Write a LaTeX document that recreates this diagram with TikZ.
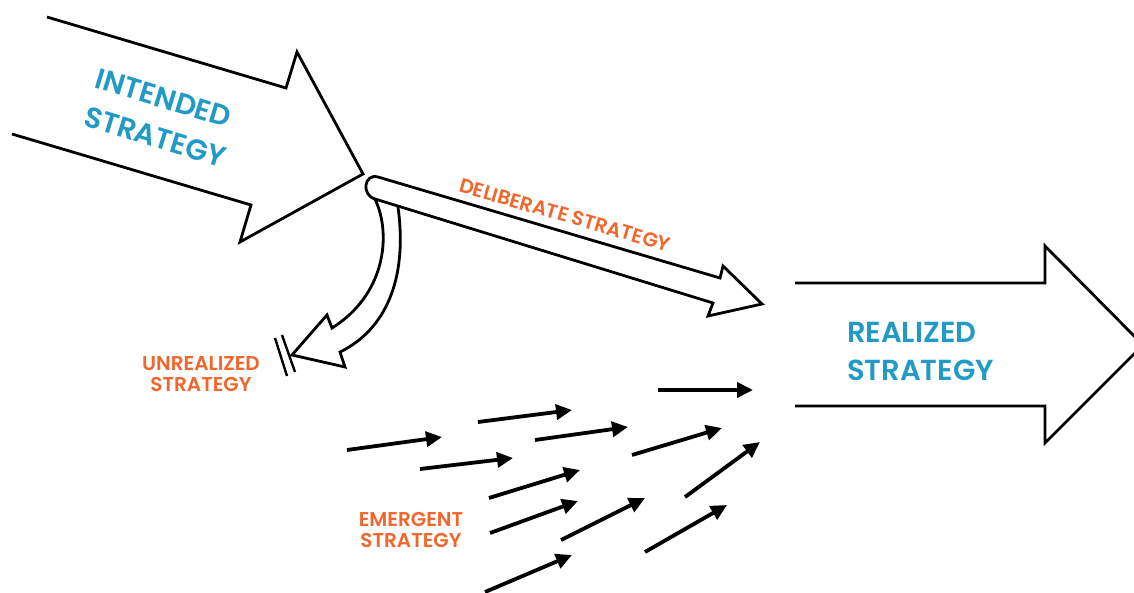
\documentclass[tikz,border=0pt]{standalone}
\usepackage{fontspec}
\setmainfont{Poppins}[BoldFont={* SemiBold}]
\usetikzlibrary{arrows.meta}
\definecolor{stratblue}{RGB}{33,155,197}
\definecolor{stratorange}{RGB}{241,102,45}

\begin{document}
\begin{tikzpicture}[x=1pt,y=1pt]
		\tikzstyle{every node}+=[inner sep=0pt]
		\tikzstyle{shapeline}=[black,line width=2.8pt]
		\tikzstyle{bigtext}=[stratblue,font=\fontsize{29}{38}\selectfont\bfseries,align=left]
		\tikzstyle{smalltext}=[stratorange,font=\fontsize{20}{21}\selectfont\bfseries,align=center]
		\tikzstyle{emergent}=[black,line width=3.8pt,-{Triangle[length=16pt,width=15pt]}]
		\useasboundingbox (0,0) rectangle (1134,-593);
		\clip (0,0) rectangle (1134,-593);
		\draw [shapeline] (47,-17) -- (286,-88) -- (297,-52) -- (363,-174) -- (240,-242) -- (251,-205) -- (12,-134);
		\draw (161,-118) node[bigtext,rotate=-17] (intended) {INTENDED\\[2pt]STRATEGY};
		\draw [shapeline] (795,-283) -- (1045,-283) -- (1045,-246) -- (1143,-345) -- (1045,-443) -- (1045,-406) -- (795,-406);
		\draw (847,-351) node[bigtext,anchor=west] (realized) {REALIZED\\STRATEGY};
		\draw [shapeline] (375,-199) .. controls (361,-195) and (364,-173) .. (378,-177) -- (720,-278) -- (723,-266) -- (762,-304) -- (708,-316) -- (713,-303) -- cycle;
		\draw (565,-215) node[smalltext,rotate=-16] (deliberate) {DELIBERATE STRATEGY};
		\draw [shapeline] (375,-199) .. controls (392,-235) and (385,-295) .. (332,-328) -- (327,-315) -- (292,-355) -- (345,-367) -- (340,-352) .. controls (385,-330) and (408,-280) .. (398,-207);
		\draw [black,line width=2.4pt] (275,-338) -- (287,-376);
		\draw [black,line width=2.4pt] (282,-335) -- (295,-372);
		\draw (201,-374) node[smalltext] (unrealized) {UNREALIZED\\STRATEGY};
		\draw (411,-530) node[smalltext] (emergenttext) {EMERGENT\\STRATEGY};
		\draw [emergent] (658,-390) -- (753,-390);
		\draw [emergent] (478,-422) -- (572,-410);
		\draw [emergent] (347,-450) -- (442,-437);
		\draw [emergent] (535,-440) -- (628,-427);
		\draw [emergent] (632,-455) -- (722,-428);
		\draw [emergent] (420,-469) -- (513,-458);
		\draw [emergent] (489,-498) -- (580,-470);
		\draw [emergent] (685,-497) -- (760,-442);
		\draw [emergent] (490,-533) -- (578,-501);
		\draw [emergent] (561,-540) -- (645,-498);
		\draw [emergent] (645,-552) -- (727,-505);
		\draw [emergent] (485,-592) -- (572,-555);
\end{tikzpicture}
\end{document}
